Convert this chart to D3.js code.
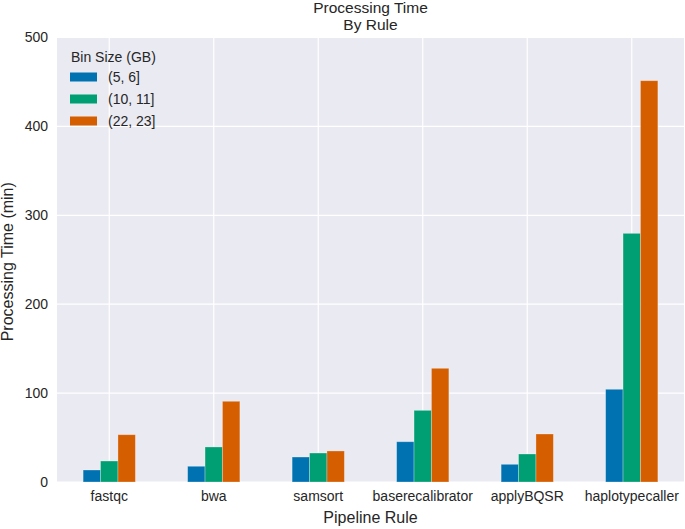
<!DOCTYPE html>
<html>
<head>
<meta charset="utf-8">
<script src="https://cdn.jsdelivr.net/npm/d3@7"></script>
<style>
  body { margin: 0; background: #fff; }
  text { font-family: "Liberation Sans", Arial, sans-serif; fill: #262626; }
</style>
</head>
<body>
<svg id="chart" width="685" height="529"></svg>
<script>
const rules = ["fastqc", "bwa", "samsort", "baserecalibrator", "applyBQSR", "haplotypecaller"];
const binSizes = ["(5, 6]", "(10, 11]", "(22, 23]"];
const bin5_6 = [13.5, 17.7, 28.1, 45.3, 19.9, 104.3];
const bin10_11 = [23.6, 39.4, 32.6, 80.6, 31.5, 279.7];
const bin22_23 = [53.2, 90.8, 34.9, 127.9, 54.0, 451.4];
const yTicks = [0, 100, 200, 300, 400, 500];
const colors = ["#0072B2", "#009E73", "#D55E00"];

const series = [bin5_6, bin10_11, bin22_23];

const svg = d3.select("#chart");
const m = { left: 57, right: 1, top: 37.5, bottom: 47 };
const W = 685, H = 529;
const x = d3.scaleBand().domain(rules).range([m.left, W - m.right]).paddingInner(0).paddingOuter(0);
const y = d3.scaleLinear().domain([0, 500]).range([H - m.bottom, m.top]);
const groupW = x.bandwidth() * 0.5;
const xs = d3.scaleBand().domain(d3.range(series.length)).range([0, groupW]);

// background
svg.append("rect").attr("x", m.left).attr("y", m.top)
  .attr("width", W - m.right - m.left).attr("height", H - m.bottom - m.top)
  .attr("fill", "#EAEAF2");

// grid
svg.append("g").selectAll("line").data(yTicks).join("line")
  .attr("x1", m.left).attr("x2", W - m.right)
  .attr("y1", d => y(d)).attr("y2", d => y(d))
  .attr("stroke", "#fff").attr("stroke-width", 1.2);
svg.append("g").selectAll("line").data(rules).join("line")
  .attr("x1", d => x(d) + x.bandwidth() / 2).attr("x2", d => x(d) + x.bandwidth() / 2)
  .attr("y1", m.top).attr("y2", H - m.bottom)
  .attr("stroke", "#fff").attr("stroke-width", 1.2);

// bars
series.forEach((s, i) => {
  svg.append("g").selectAll("rect").data(s).join("rect")
    .attr("x", (d, j) => x(rules[j]) + x.bandwidth() / 2 - groupW / 2 + xs(i))
    .attr("width", xs.bandwidth())
    .attr("y", d => y(d))
    .attr("height", d => y(0) - y(d))
    .attr("fill", colors[i])
    .attr("stroke", "rgba(255,255,255,0.35)")
    .attr("stroke-width", 0.8);
});

// axes
const yAxis = svg.append("g").attr("transform", `translate(${m.left},0)`)
  .call(d3.axisLeft(y).tickValues(yTicks).tickSize(0).tickPadding(9));
yAxis.select(".domain").remove();
yAxis.selectAll("text").attr("font-size", 14).attr("fill", "#262626")
  .style("font-family", "Liberation Sans, Arial, sans-serif");

const xAxis = svg.append("g").attr("transform", `translate(0,${H - m.bottom})`)
  .call(d3.axisBottom(x).tickSize(0).tickPadding(9));
xAxis.select(".domain").remove();
xAxis.selectAll("text").attr("font-size", 14).attr("fill", "#262626")
  .style("font-family", "Liberation Sans, Arial, sans-serif");

// titles
const cx = (m.left + W - m.right) / 2;
svg.append("text").attr("x", cx).attr("y", 13).attr("text-anchor", "middle")
  .attr("font-size", 15.5).text("Processing Time");
svg.append("text").attr("x", cx).attr("y", 30).attr("text-anchor", "middle")
  .attr("font-size", 15.5).text("By Rule");
svg.append("text").attr("x", cx).attr("y", 523).attr("text-anchor", "middle")
  .attr("font-size", 16).text("Pipeline Rule");
svg.append("text").attr("transform", `translate(13,${(m.top + H - m.bottom) / 2 + 2}) rotate(-90)`)
  .attr("text-anchor", "middle").attr("font-size", 16).text("Processing Time (min)");

// legend
const lg = svg.append("g");
lg.append("text").attr("x", 71).attr("y", 62).attr("font-size", 14).text("Bin Size (GB)");
binSizes.forEach((b, i) => {
  const cy = 77 + i * 22;
  lg.append("rect").attr("x", 70).attr("y", cy - 4.5).attr("width", 27).attr("height", 9)
    .attr("fill", colors[i]);
  lg.append("text").attr("x", 108).attr("y", cy + 5).attr("font-size", 14).text(b);
});
</script>
</body>
</html>
